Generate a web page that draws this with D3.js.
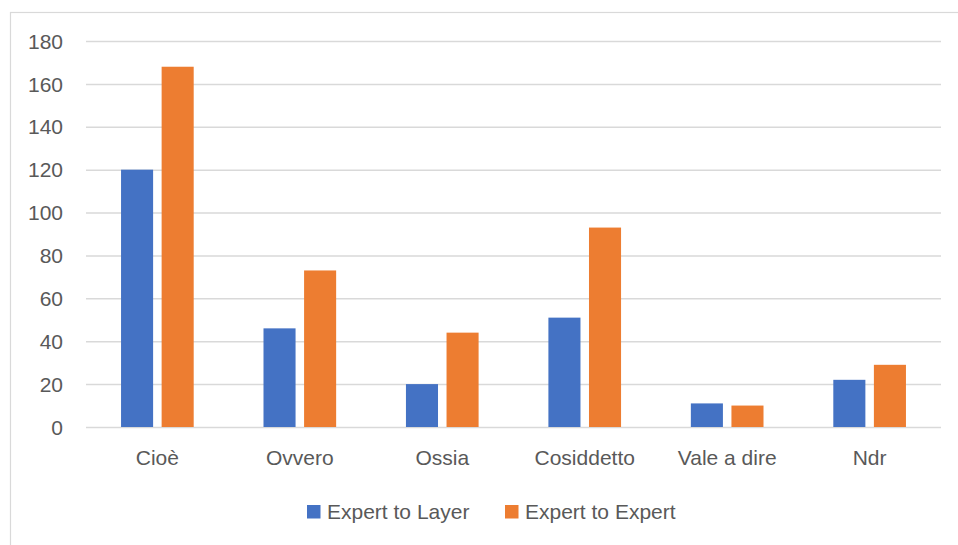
<!DOCTYPE html>
<html>
<head>
<meta charset="utf-8">
<script src="https://cdn.jsdelivr.net/npm/d3@7"></script>
<style>
  html, body { margin: 0; padding: 0; background: #ffffff; }
  svg { display: block; }
  text { font-family: "Liberation Sans", Arial, sans-serif; fill: #595959; }
</style>
</head>
<body>
<svg id="chart" width="958" height="545"></svg>
<script>
// Categories and series
const categories = ["Cioè", "Ovvero", "Ossia", "Cosiddetto", "Vale a dire", "Ndr"];
const seriesNames = ["Expert to Layer", "Expert to Expert"];
const expertToLayer = [120, 46, 20, 51, 11, 22];
const expertToExpert = [168, 73, 44, 93, 10, 29];
const yTicks = [0, 20, 40, 60, 80, 100, 120, 140, 160, 180];
const colors = ["#4472c4", "#ed7d31"];

const seriesValues = [expertToLayer, expertToExpert];
const rows = categories.map((c, i) => ({
  category: c,
  values: seriesNames.map((s, j) => ({ series: s, value: seriesValues[j][i] }))
}));

const svg = d3.select("#chart");
const W = 958, H = 545;
const fontSize = 21;

// Outer chart frame (right and bottom edges fall outside the view)
svg.append("rect")
  .attr("x", 10.5).attr("y", 12.5)
  .attr("width", W + 20).attr("height", H + 20)
  .attr("fill", "#ffffff")
  .attr("stroke", "#d9d9d9")
  .attr("stroke-width", 1.2);

const plot = { left: 86, right: 941, top: 41, bottom: 427 };

const x0 = d3.scaleBand()
  .domain(categories)
  .range([plot.left, plot.right])
  .paddingInner(0.49)
  .paddingOuter(0.246);

const x1 = d3.scaleBand()
  .domain(seriesNames)
  .range([0, x0.bandwidth()])
  .paddingInner(0.21);

const y = d3.scaleLinear()
  .domain([0, 180])
  .range([plot.bottom, plot.top]);

// Horizontal gridlines
const yAxis = d3.axisLeft(y)
  .tickValues(yTicks)
  .tickSize(-(plot.right - plot.left))
  .tickPadding(23);

const gy = svg.append("g")
  .attr("transform", `translate(${plot.left},0)`)
  .call(yAxis);
gy.select(".domain").remove();
gy.selectAll(".tick line")
  .attr("stroke", "#d9d9d9")
  .attr("stroke-width", 1.5);
gy.selectAll(".tick text")
  .attr("font-size", fontSize)
  .attr("fill", "#595959")
  .attr("dy", "0.34em")
  .style("font-family", "'Liberation Sans', Arial, sans-serif");

// Bars
const groups = svg.append("g")
  .selectAll("g")
  .data(rows)
  .join("g")
  .attr("transform", d => `translate(${x0(d.category)},0)`);

groups.selectAll("rect")
  .data(d => d.values)
  .join("rect")
  .attr("x", d => x1(d.series))
  .attr("y", d => y(d.value))
  .attr("width", x1.bandwidth())
  .attr("height", d => y(0) - y(d.value))
  .attr("fill", (d, i) => colors[i]);

// Category axis
const xAxis = d3.axisBottom(x0).tickSize(0).tickPadding(23);
const gx = svg.append("g")
  .attr("transform", `translate(0,${plot.bottom})`)
  .call(xAxis);
gx.select(".domain").remove();
gx.selectAll(".tick text")
  .attr("font-size", fontSize)
  .attr("fill", "#595959")
  .style("font-family", "'Liberation Sans', Arial, sans-serif");

// Legend
const legendItems = [
  { name: seriesNames[0], color: colors[0], x: 307 },
  { name: seriesNames[1], color: colors[1], x: 505 }
];
const legend = svg.append("g");
legendItems.forEach(item => {
  legend.append("rect")
    .attr("x", item.x).attr("y", 505)
    .attr("width", 13.5).attr("height", 13.5)
    .attr("fill", item.color);
  legend.append("text")
    .attr("x", item.x + 20).attr("y", 519)
    .attr("font-size", fontSize)
    .text(item.name);
});
</script>
</body>
</html>
